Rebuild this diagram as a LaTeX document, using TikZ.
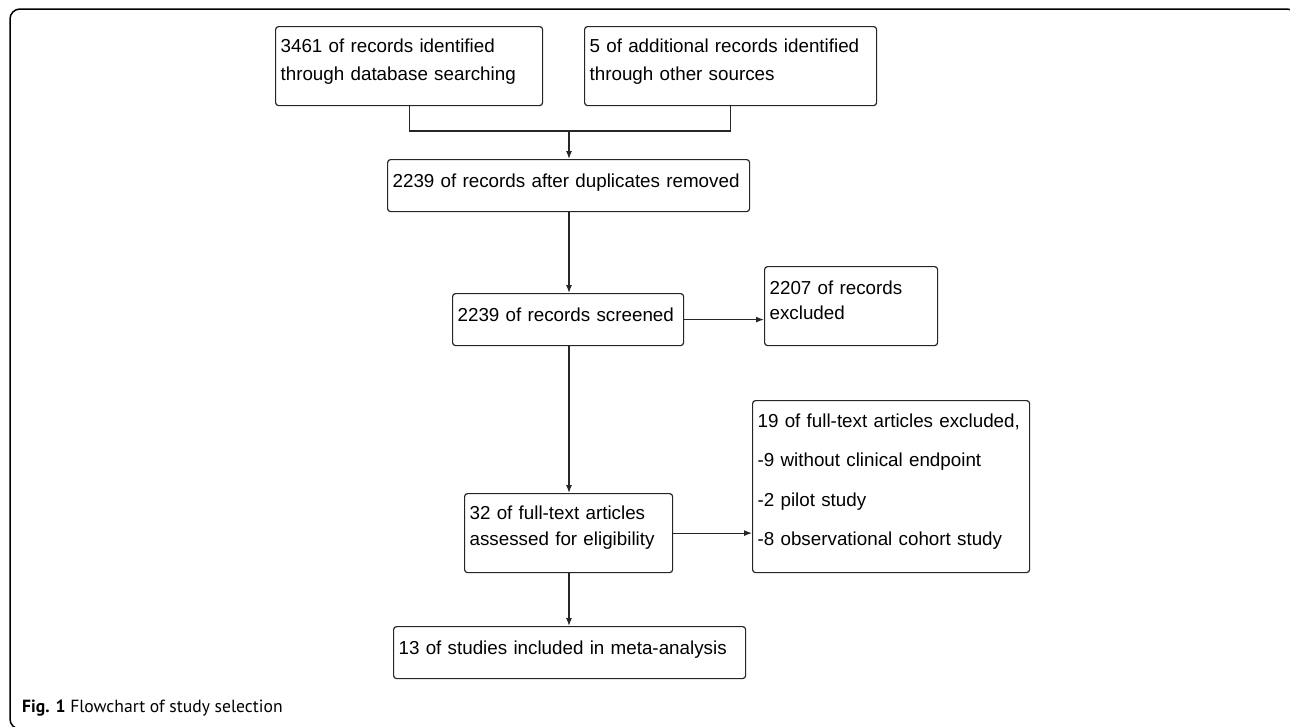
\documentclass[tikz,border=0pt]{standalone}
\usepackage{fontspec}
\setmainfont{Liberation Sans}
\newfontfamily\capfont{PT Sans}
\usetikzlibrary{arrows.meta}

\begin{document}
\begin{tikzpicture}[x=1pt,y=-1pt,
    box/.style={draw=black!85,line width=1.2pt,rounded corners=3pt,anchor=north west,
      align=left,inner xsep=5pt,inner ysep=0pt,font=\fontsize{18.8}{26}\selectfont},
    oneline/.style={text height=13.6pt,text depth=10pt},
    >={Latex[length=8pt,width=6pt]}]
  \clip (0,0) rectangle (1290,726);
  % frame round the figure
  \draw[line width=1.5pt,rounded corners=10pt] (10,9) rectangle (1297,729);
  \draw
    (275,26) node[box,text width=257pt,minimum height=79pt] (ident){3461 of records identified\\[2pt]through database searching\\[-13pt]\mbox{}}
    (584,26) node[box,text width=282pt,minimum height=79pt] (other){5 of additional records identified\\[2pt]through other sources\\[-13pt]\mbox{}}
    (387,159) node[box,oneline,text width=352pt,minimum height=52pt] (dedup){2239 of records after duplicates removed}
    (452,293) node[box,oneline,text width=221pt,minimum height=52pt] (screen){2239 of records screened}
    (764,266) node[box,text width=163pt,minimum height=79pt] (excl){2207 of records\\[-1pt]excluded\\[-15pt]\mbox{}}
    (464,493) node[box,text width=198pt,minimum height=79pt] (full){32 of full-text articles\\assessed for eligibility\\[-12pt]\mbox{}}
    (752,400) node[box,text width=267pt,minimum height=172pt] (fullexcl){19 of full-text articles excluded,\\[13.5pt]-9 without clinical endpoint\\[13.5pt]-2 pilot study\\[13.5pt]-8 observational cohort study\\[-12pt]\mbox{}}
    (393,626) node[box,oneline,text width=342pt,minimum height=52pt] (incl){13 of studies included in meta-analysis};
  \node[anchor=base west,inner sep=0pt,font=\capfont\fontsize{17.6}{22}\selectfont] (cap) at (22,712)
    {\textbf{Fig. 1} Flowchart of study selection};
  \coordinate (join) at (569,131);
  \begin{scope}[line width=1.2pt,draw=black!85]
    \draw (ident.south) |- (join) -| (other.south);
    \draw[->] (join) -- (join |- dedup.north);
    \draw[->] (dedup.south -| join) -- (screen.north -| join);
    \draw[->] (screen.east) -- (screen.east -| excl.west);
    \draw[->] (screen.south -| join) -- (full.north -| join);
    \draw[->] (full.east) -- (full.east -| fullexcl.west);
    \draw[->] (full.south -| join) -- (incl.north -| join);
  \end{scope}
\end{tikzpicture}
\end{document}
